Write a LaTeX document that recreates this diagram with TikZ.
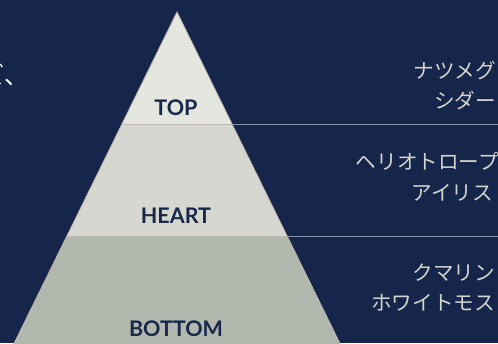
\documentclass[tikz,border=0pt]{standalone}
\usepackage{fontspec}
\setmainfont{Lato}
\newfontfamily\jpfont{Noto Sans CJK JP}
\definecolor{bgnavy}{HTML}{16264A}
\definecolor{topfill}{HTML}{E3E7E0}
\definecolor{heartfill}{HTML}{D6D7D1}
\definecolor{botfill}{HTML}{B2B8AE}
\definecolor{edgetan}{HTML}{C4B6AE}
\definecolor{rulegray}{HTML}{8C909A}
\definecolor{labelnavy}{HTML}{17284A}
\definecolor{notegray}{HTML}{D2D3CF}
\begin{document}
\begin{tikzpicture}[x=1pt,y=-1pt,
  tiername/.style={font=\bfseries\fontsize{21.5}{21.5}\selectfont, text=labelnavy, inner sep=0pt, anchor=base},
  note/.style={font=\jpfont\fontsize{20.6}{20.6}\selectfont, text=notegray, inner sep=0pt, anchor=base east},
  band/.style={draw=edgetan, line width=0.8pt},
  rule/.style={draw=rulegray, line width=1pt}]
\useasboundingbox[fill=bgnavy] (0,0) rectangle (498,343);
\begin{scope}
\clip (0,0) rectangle (498,343);
% pyramid coordinates
\coordinate (apex) at (177,12);
\coordinate (tl) at (122,124);
\coordinate (tr) at (232,124);
\coordinate (hl) at (67,236);
\coordinate (hr) at (287,236);
\coordinate (bl) at (2,368);
\coordinate (br) at (352,368);
\fill[botfill] (hl) -- (hr) -- (br) -- (bl) -- cycle;
\fill[heartfill] (tl) -- (tr) -- (hr) -- (hl) -- cycle;
\fill[topfill] (apex) -- (tr) -- (tl) -- cycle;
\draw[band] (bl) -- (apex) -- (br);
\draw[band] (tl) -- (tr);
\draw[band] (hl) -- (hr);
\coordinate (r1) at (498,124);
\coordinate (r2) at (498,236);
\draw[rule] (tr) -- (r1);
\draw[rule] (hr) -- (r2);
\node[tiername] (top) at (176,115) {TOP};
\node[tiername] (heart) at (176,223) {HEART};
\node[tiername] (bottom) at (176,336) {BOTTOM};
\node[note] (n1) at (496,78) {ナツメグ};
\node[note] (n2) at (496,108) {シダー};
\node[note] (n3) at (499,169) {ヘリオトロープ};
\node[note] (n4) at (493,200) {アイリス};
\node[note] (n5) at (495,280) {クマリン};
\node[note] (n6) at (495,310) {ホワイトモス};
\node[font=\jpfont\fontsize{24}{24}\selectfont, text=white, inner sep=0pt, anchor=base east] (cut) at (28.5,84) {ズ、};
\end{scope}
\end{tikzpicture}
\end{document}
